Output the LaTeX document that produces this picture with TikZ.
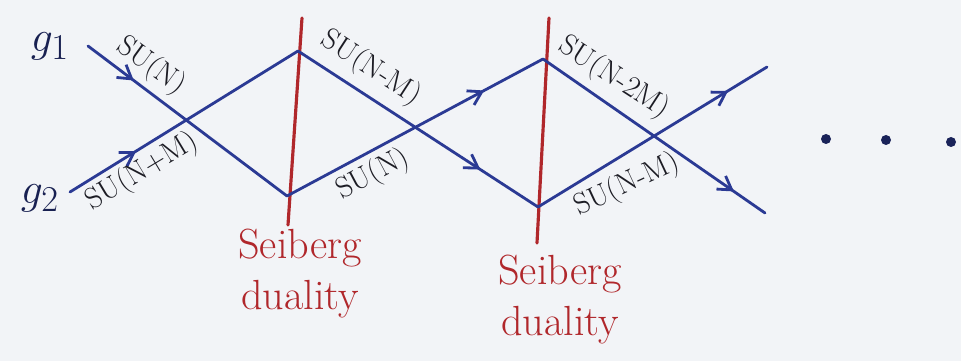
\documentclass[tikz,border=0pt]{standalone}
\usetikzlibrary{arrows.meta, positioning, decorations.markings, calc}
\definecolor{cblue}{HTML}{2B3A94}
\definecolor{cred}{HTML}{B0272B}
\definecolor{cink}{HTML}{1C1C24}
\definecolor{cpaper}{HTML}{F2F4F7}
\tikzset{
  brane/.style={draw=cblue, color=cblue, line width=1.6pt, line cap=round},
  wall/.style={draw=cred, line width=1.8pt, line cap=round},
  flow/.style={postaction={decorate}, decoration={markings, mark=at position #1 with {\arrow{Straight Barb[length=2.6mm, width=3.2mm]}}}},
  group/.style={font=\fontsize{17}{20}\selectfont, text=cink, inner sep=1pt},
  coupling/.style={font=\fontsize{30}{34}\selectfont, text=cblue!55!black},
  duality/.style={font=\fontsize{24}{29}\selectfont, text=cred, align=center},
  dot/.style={circle, fill=cblue!60!black, inner sep=0pt, minimum size=2mm},
}
\begin{document}
\begin{tikzpicture}[x=0.02cm, y=-0.02cm]
  \fill[cpaper] (0,0) rectangle (961,361);
  \useasboundingbox (0,0) rectangle (961,361);
  % duality walls
  \coordinate (w1t) at (302,18);  \coordinate (w1b) at (288,225);
  \coordinate (w2t) at (549,18);  \coordinate (w2b) at (537,243);
  \draw[wall] (w1t) -- (w1b);
  \draw[wall] (w2t) -- (w2b);
  % brane vertices
  \coordinate (a1) at (88,46);
  \coordinate (a2) at (70,192);
  \coordinate (t1) at (298,51);
  \coordinate (b1) at (287,196);
  \coordinate (t2) at (543,59);
  \coordinate (b2) at (538,207);
  \coordinate (e1) at (767,67);
  \coordinate (e2) at (765,213);
  \draw[brane, flow=0.23] (a1) -- (b1);
  \draw[brane, flow=0.29] (a2) -- (t1);
  \draw[brane, flow=0.76] (t1) -- (b2);
  \draw[brane, flow=0.77] (b1) -- (t2);
  \draw[brane, flow=0.86] (t2) -- (e2);
  \draw[brane, flow=0.83] (b2) -- (e1);
  % couplings
  \node[coupling] (g1) at (50,46) {$g_1$};
  \node[coupling] (g2) at (40,198) {$g_2$};
  % gauge groups
  \node[group, rotate=-36] (su1) at (151,66) {SU(N)};
  \node[group, rotate=31] (su2) at (142,172) {SU(N+M)};
  \node[group, rotate=-33] (su3) at (371,68) {SU(N-M)};
  \node[group, rotate=28] (su4) at (373,175) {SU(N)};
  \node[group, rotate=-33] (su5) at (614,78) {SU(N-2M)};
  \node[group, rotate=25] (su6) at (627,185) {SU(N-M)};
  % labels under the walls
  \node[duality] (sd1) at (300,274) {Seiberg\\duality};
  \node[duality] (sd2) at (560,300) {Seiberg\\duality};
  % continuation
  \node[dot] (d1) at (826,139) {};
  \node[dot] (d2) at (886,140) {};
  \node[dot] (d3) at (951,142) {};
\end{tikzpicture}
\end{document}
